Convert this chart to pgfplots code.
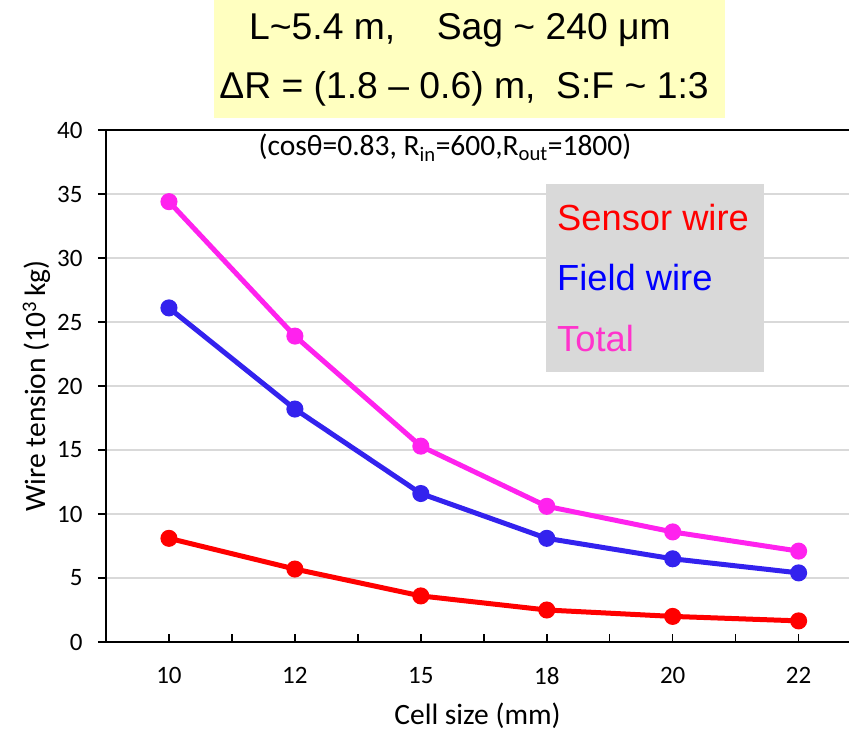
\documentclass[border=0pt]{standalone}
\usepackage{fontspec}
\setmainfont{Carlito}
\newfontfamily\arial{Liberation Sans}
\usepackage{pgfplots}
\pgfplotsset{compat=1.18}
\definecolor{sensorc}{RGB}{255,0,0}
\definecolor{fieldc}{RGB}{51,34,238}
\definecolor{totalc}{RGB}{255,34,238}
\definecolor{totaltxt}{RGB}{255,51,204}
\definecolor{fieldtxt}{RGB}{0,0,255}
\definecolor{gridc}{RGB}{217,217,217}
\definecolor{legbg}{RGB}{217,217,217}
\definecolor{titlebg}{RGB}{255,255,192}
\begin{document}
\begin{tikzpicture}
\path[use as bounding box] (-106pt,-92pt) rectangle (743pt,642pt);
\begin{axis}[
  scale only axis,
  width=743pt, height=512pt,
  xmin=-0.5, xmax=5.4,
  ymin=0, ymax=40,
  xtick={0,1,2,3,4,5},
  xticklabels={10,12,15,18,20,22},
  minor xtick={-0.5,0.5,1.5,2.5,3.5,4.5,5.5},
  ytick={0,5,...,40},
  axis lines*=left,
  axis line style={-, line width=1.5pt, black},
  ymajorgrids,
  major grid style={gridc, line width=2pt},
  major tick length=8pt, minor tick length=8pt,
  x tick style={line width=1.5pt, black},
  y tick style={line width=1.5pt, black},
  xtick align=inside,
  ytick align=outside,
  /pgf/number format/assume math mode=true,
  tick label style={font=\fontsize{25}{28}\selectfont},
  xticklabel style={yshift=-22pt},
  yticklabel style={xshift=-12pt},
  label style={font=\fontsize{29.5}{33}\selectfont},
  xlabel={Cell size (mm)},
  ylabel={Wire tension (10\textsuperscript{3}\,kg)},
  xlabel style={yshift=-11pt},
  ylabel style={yshift=0pt},
  clip=false,
  every axis plot/.append style={line width=5pt, mark=*, mark size=6pt},
]
\addplot[totalc, mark options={fill=totalc, draw=totalc}] coordinates {(0,34.4) (1,23.9) (2,15.3) (3,10.6) (4,8.6) (5,7.1)};
\addplot[fieldc, mark options={fill=fieldc, draw=fieldc}] coordinates {(0,26.1) (1,18.2) (2,11.6) (3,8.1) (4,6.5) (5,5.4)};
\addplot[sensorc, mark options={fill=sensorc, draw=sensorc}] coordinates {(0,8.1) (1,5.7) (2,3.6) (3,2.5) (4,2.0) (5,1.65)};
\draw[line width=1.5pt, black] (rel axis cs:0,1) -- (rel axis cs:1,1);
\end{axis}
% legend box
\fill[legbg] (440pt,270pt) rectangle (658pt,458pt);
\node[anchor=base west, inner sep=0pt, text=sensorc, font=\arial\fontsize{36.3}{40}\selectfont] at (451pt,411pt) {Sensor wire};
\node[anchor=base west, inner sep=0pt, text=fieldtxt, font=\arial\fontsize{36.3}{40}\selectfont] at (451pt,351pt) {Field wire};
\node[anchor=base west, inner sep=0pt, text=totaltxt, font=\arial\fontsize{36.3}{40}\selectfont] at (451pt,290pt) {Total};
% subtitle
\node[anchor=base, inner sep=0pt, font=\fontsize{29.5}{33}\selectfont] at (339pt,486pt) {(cosθ=0.83, R\textsubscript{in}=600,R\textsubscript{out}=1800)};
% title box
\fill[titlebg] (108pt,524pt) rectangle (619pt,642pt);
\node[anchor=base, inner sep=0pt, font=\arial\fontsize{37.3}{40}\selectfont] at (354pt,602pt) {L\textasciitilde5.4 m,\ \ \ \ Sag \textasciitilde{} 240 μm};
\node[anchor=base, inner sep=0pt, font=\arial\fontsize{37.3}{40}\selectfont] at (358pt,543pt) {ΔR = (1.8 – 0.6) m,\ \ S:F \textasciitilde{} 1:3};
\end{tikzpicture}
\end{document}
